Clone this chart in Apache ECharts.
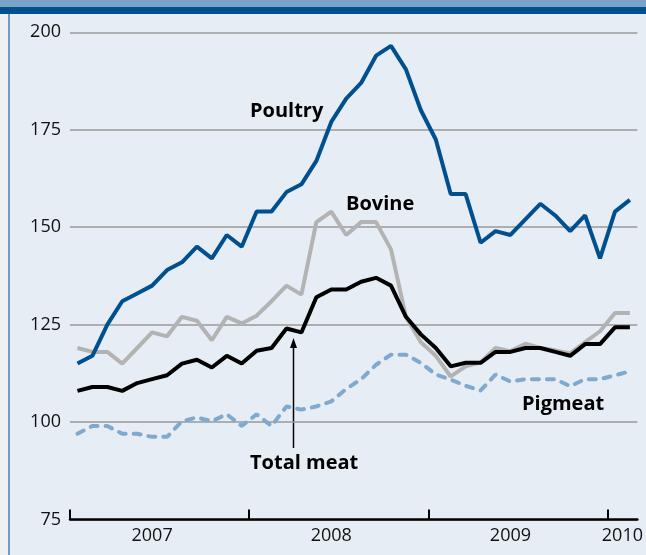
<!DOCTYPE html>
<html>
<head>
<meta charset="utf-8">
<script src="https://cdn.jsdelivr.net/npm/echarts@6/dist/echarts.min.js"></script>
<style>
  html, body { margin: 0; padding: 0; background: #e6edf4; }
  #chart { width: 646px; height: 555px; }
</style>
</head>
<body>
<div id="chart"></div>
<script>
// monthly index, Jan 2007 - Feb 2010
const months = [
  "2007-01", "2007-02", "2007-03", "2007-04", "2007-05", "2007-06", "2007-07", "2007-08", "2007-09", "2007-10", "2007-11", "2007-12",
  "2008-01", "2008-02", "2008-03", "2008-04", "2008-05", "2008-06", "2008-07", "2008-08", "2008-09", "2008-10", "2008-11", "2008-12",
  "2009-01", "2009-02", "2009-03", "2009-04", "2009-05", "2009-06", "2009-07", "2009-08", "2009-09", "2009-10", "2009-11", "2009-12",
  "2010-01", "2010-02"
];
const yearLabels = ["2007", "2008", "2009", "2010"];

const poultry = [115, 117, 125, 131, 133, 135, 139, 141, 145, 142, 148, 145,
  154, 154, 159, 161, 167, 177, 183, 187, 194, 196.5, 190.5, 180,
  172.5, 158.5, 158.5, 146, 149, 148, 152, 156, 153, 149, 153, 142,
  154, 157];
const bovine = [119, 118, 118, 115, 119, 123, 122, 127, 126, 121, 127, 125.3,
  127.3, 131, 135, 132.7, 151.3, 154, 148, 151.3, 151.3, 144.3, 127, 120.5,
  117, 111.7, 114.3, 115.3, 119, 118.2, 120.1, 119, 118.4, 117.6, 120.5, 123.3,
  128, 128];
const totalMeat = [108, 109, 109, 108, 110, 111, 112, 115, 116, 114, 117, 115,
  118.3, 119, 124, 123, 132, 134, 134, 136, 137, 135, 127, 122.5,
  119, 114.3, 115.2, 115.2, 118, 118, 119, 119, 118, 117, 120, 120,
  124.3, 124.3];
const pigmeat = [97, 99, 99, 97, 97, 96.2, 96.2, 100.2, 101.2, 100.2, 102, 99,
  102, 99, 104, 103.2, 104, 105.3, 108.5, 111, 114.7, 117.3, 117.3, 115.2,
  112.2, 110.9, 109.3, 108.1, 112.2, 110.4, 111, 111, 111, 109.2, 111, 111,
  112, 113];

const FONT = "'Open Sans', 'Noto Sans', sans-serif";

// year ticks at the first month of each year, labels near mid-year
const yearStart = yearLabels.map(y => months.findIndex(m => m.startsWith(y)));
const yearPos = yearLabels.map((y, k) => {
  const n = months.filter(m => m.startsWith(y)).length;
  return yearStart[k] + Math.min(5.5, n / 2);
});

function pts(arr) {
  return arr.map((v, i) => [i + 0.5, v]);
}

const chart = echarts.init(document.getElementById("chart"));
chart.setOption({
  animation: false,
  backgroundColor: "#e6edf4",
  grid: { left: 70, right: 6, top: 32.3, bottom: 35.5 },
  xAxis: {
    type: "value",
    min: 0,
    max: months.length,
    splitLine: { show: false },
    axisLine: { lineStyle: { color: "#000", width: 2.5 } },
    axisTick: {
      show: true,
      inside: true,
      length: 10,
      customValues: yearStart,
      lineStyle: { color: "#000", width: 2 },
    },
    axisLabel: {
      customValues: yearPos,
      margin: 7,
      fontSize: 18,
      fontFamily: FONT,
      color: "#111",
      formatter: (v) => yearLabels[yearPos.indexOf(v)] || "",
    },
  },
  yAxis: {
    type: "value",
    min: 75,
    max: 200,
    interval: 25,
    axisLine: { show: false },
    axisTick: { show: false },
    axisLabel: { margin: 9, fontSize: 18, fontFamily: FONT, color: "#111" },
    splitLine: { lineStyle: { color: "#999", width: 1.5 } },
  },
  series: [
    {
      name: "Pigmeat",
      type: "line",
      symbol: "none",
      data: pts(pigmeat),
      lineStyle: { color: "#7fa9cf", width: 4, type: [7, 8], cap: "round" },
    },
    {
      name: "Bovine",
      type: "line",
      symbol: "none",
      data: pts(bovine),
      lineStyle: { color: "#b3b3b3", width: 4 },
    },
    {
      name: "Total meat",
      type: "line",
      symbol: "none",
      data: pts(totalMeat),
      lineStyle: { color: "#000", width: 4 },
    },
    {
      name: "Poultry",
      type: "line",
      symbol: "none",
      data: pts(poultry),
      lineStyle: { color: "#00508f", width: 4 },
    },
  ],
  graphic: [
    // frame bits
    { type: "rect", shape: { x: 0, y: 0, width: 646, height: 7 }, style: { fill: "#7ba3c9" } },
    { type: "rect", shape: { x: 0, y: 7, width: 646, height: 7 }, style: { fill: "#00508f" } },
    { type: "rect", shape: { x: 0, y: 14, width: 8, height: 541 }, style: { fill: "#edf1f6" } },
    { type: "rect", shape: { x: 8, y: 14, width: 2, height: 541 }, style: { fill: "#6f9bc6" } },
    // series names
    { type: "text", x: 250, y: 111, style: { text: "Poultry", font: "bold 20px " + FONT, fill: "#000", verticalAlign: "middle" } },
    { type: "text", x: 346, y: 204, style: { text: "Bovine", font: "bold 20px " + FONT, fill: "#000", verticalAlign: "middle" } },
    { type: "text", x: 522, y: 404, style: { text: "Pigmeat", font: "bold 20px " + FONT, fill: "#000", verticalAlign: "middle" } },
    { type: "text", x: 250, y: 463, style: { text: "Total meat", font: "bold 20px " + FONT, fill: "#000", verticalAlign: "middle" } },
    // arrow to total meat
    { type: "line", shape: { x1: 293.5, y1: 346, x2: 293.5, y2: 448 }, style: { stroke: "#000", lineWidth: 1.5 } },
    { type: "polygon", shape: { points: [[293.5, 338], [290, 348], [297, 348]] }, style: { fill: "#000" } },
  ],
});
</script>
</body>
</html>
